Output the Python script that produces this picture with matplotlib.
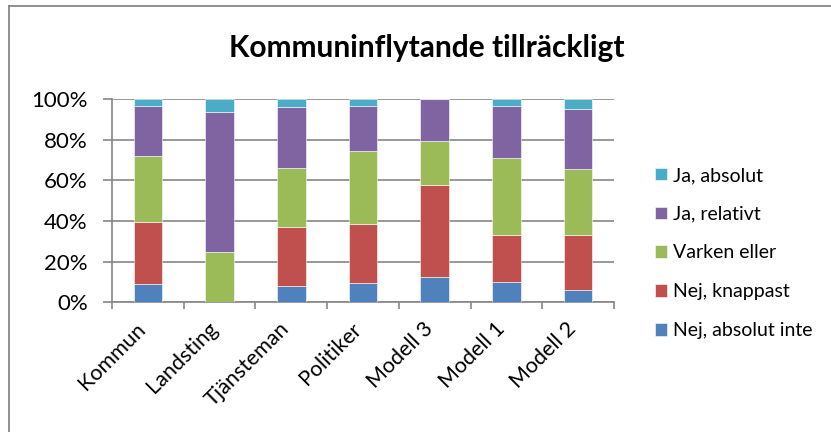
import numpy as np
import matplotlib.pyplot as plt
from matplotlib.lines import Line2D
from matplotlib.transforms import ScaledTranslation

categories = ["Kommun", "Landsting", "Tjänsteman", "Politiker", "Modell 3", "Modell 1", "Modell 2"]
nej_absolut = [8.9, 0.0, 7.9, 9.4, 12.3, 9.9, 5.9]
nej_knappast = [30.8, 0.0, 29.0, 29.4, 45.3, 23.4, 27.4]
varken = [32.5, 25.0, 29.3, 35.9, 22.0, 37.6, 32.5]
ja_relativt = [24.5, 68.6, 30.2, 22.2, 20.4, 25.7, 29.3]
ja_absolut = [3.3, 6.4, 3.6, 3.1, 0.0, 3.4, 4.9]

series = [
    ("Nej, absolut inte", nej_absolut, "#4F81BD"),
    ("Nej, knappast", nej_knappast, "#C0504D"),
    ("Varken eller", varken, "#9BBB59"),
    ("Ja, relativt", ja_relativt, "#8064A2"),
    ("Ja, absolut", ja_absolut, "#4BACC6"),
]

plt.rcParams["font.family"] = ["Lato", "DejaVu Sans"]

W, H = 831, 432
fig = plt.figure(figsize=(W / 100, H / 100), dpi=100)

# chart frame (only top and left edges visible in the crop)
fig.add_artist(Line2D([9 / W, 1], [1 - 6 / H, 1 - 6 / H], transform=fig.transFigure,
                      color="#868686", linewidth=1.3))
fig.add_artist(Line2D([9 / W, 9 / W], [0, 1 - 6 / H], transform=fig.transFigure,
                      color="#868686", linewidth=1.3))

ax = fig.add_axes([112 / W, 1 - 302.3 / H, (614 - 112) / W, 203 / H])

x = np.arange(len(categories))
bottom = np.zeros(len(categories))
handles = []
for name, vals, color in series:
    vals = np.array(vals)
    b = ax.bar(x, vals, 0.4, bottom=bottom, color=color, label=name,
               edgecolor="white", linewidth=0.4, zorder=3)
    handles.append(b)
    bottom += vals

ax.set_xlim(-0.5, len(categories) - 0.5)
ax.set_ylim(0, 100)
ax.set_yticks(np.arange(0, 101, 20))
ax.set_yticklabels([f"{v}%" for v in range(0, 101, 20)], fontsize=16)
ax.yaxis.grid(True, color="#868686", linewidth=1.2, zorder=0)
ax.tick_params(axis="y", length=6.5, width=1.2, color="#868686", pad=11)

ax.set_xticks(x)
ax.set_xticklabels(categories, fontsize=15.5, rotation=45, ha="right", va="center",
                   rotation_mode="anchor")
ax.set_xticks(np.arange(-0.5, len(categories)), minor=True)
ax.tick_params(axis="x", which="major", length=0, pad=14)
ax.tick_params(axis="x", which="minor", length=5, width=1.2, color="#868686")
shift = ScaledTranslation(-5 / 100, -4 / 100, fig.dpi_scale_trans)
for lab in ax.get_xticklabels():
    lab.set_transform(lab.get_transform() + shift)

for s in ["top", "right"]:
    ax.spines[s].set_visible(False)
for s in ["left", "bottom"]:
    ax.spines[s].set_color("#868686")
    ax.spines[s].set_linewidth(1.2)

fig.text(427 / W, 1 - 48 / H, "Kommuninflytande tillräckligt", ha="center", va="center",
         fontsize=21.5, fontweight="bold")

ax.legend(handles[::-1], [s[0] for s in series][::-1], loc="center left",
          bbox_to_anchor=(655 / W, 1 - 253 / H), bbox_transform=fig.transFigure,
          frameon=False, fontsize=14, borderpad=0, borderaxespad=0,
          labelspacing=1.12, handlelength=0.62, handleheight=0.62, handletextpad=0.3)

fig.savefig("out.png", dpi=100)
